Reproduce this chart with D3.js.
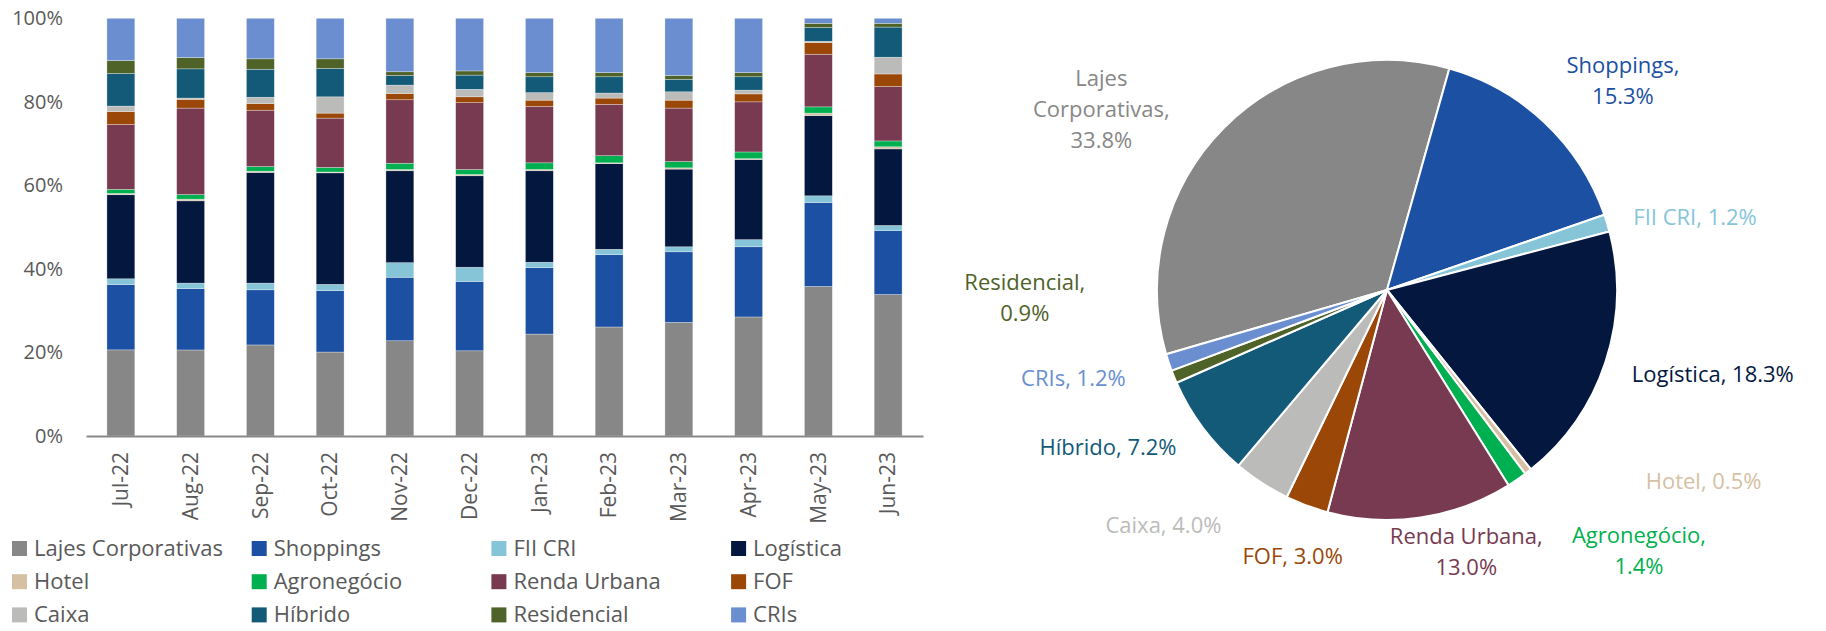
<!DOCTYPE html>
<html>
<head>
<meta charset="utf-8">
<script src="https://cdn.jsdelivr.net/npm/d3@7"></script>
<style>
  body { margin: 0; background: #fff; }
  text { font-family: "Open Sans", "Noto Sans", sans-serif; }
</style>
</head>
<body>
<div id="chart"></div>
<script>
const width = 1826, height = 631;

// data
const months = ["Jul-22", "Aug-22", "Sep-22", "Oct-22", "Nov-22", "Dec-22",
  "Jan-23", "Feb-23", "Mar-23", "Apr-23", "May-23", "Jun-23"];

const seriesNames = ["Lajes Corporativas", "Shoppings", "FII CRI", "Logística", "Hotel",
  "Agronegócio", "Renda Urbana", "FOF", "Caixa", "Híbrido", "Residencial", "CRIs"];

const lajes       = [20.6, 20.6, 21.8, 20.1, 22.8, 20.4, 24.4, 26.1, 27.2, 28.5, 35.8, 33.8];
const shoppings   = [15.6, 14.7, 13.2, 14.7, 15.2, 16.6, 15.9, 17.3, 16.9, 16.8, 20.1, 15.3];
const fiiCri      = [1.4, 1.3, 1.6, 1.5, 3.5, 3.4, 1.3, 1.3, 1.2, 1.7, 1.6, 1.2];
const logistica   = [20.1, 19.7, 26.5, 26.7, 22.0, 21.9, 21.9, 20.5, 18.6, 19.2, 19.2, 18.3];
const hotel       = [0.3, 0.4, 0.3, 0.2, 0.3, 0.3, 0.3, 0.2, 0.3, 0.2, 0.6, 0.5];
const agro        = [1.0, 1.1, 1.1, 1.1, 1.5, 1.2, 1.6, 1.7, 1.5, 1.6, 1.5, 1.4];
const renda       = [15.5, 20.7, 13.5, 11.8, 15.2, 16.0, 13.5, 12.3, 12.8, 12.0, 12.6, 13.0];
const fof         = [3.1, 2.1, 1.6, 1.2, 1.5, 1.4, 1.5, 1.5, 1.9, 1.9, 2.8, 3.0];
const caixa       = [1.3, 0.3, 1.5, 3.9, 2.0, 1.8, 1.8, 1.2, 2.0, 0.9, 0.3, 4.0];
const hibrido     = [7.8, 7.0, 6.7, 6.8, 2.3, 3.4, 3.8, 3.9, 3.0, 3.2, 3.3, 7.2];
const residencial = [3.1, 2.7, 2.5, 2.3, 0.9, 1.0, 1.0, 1.0, 0.9, 1.0, 1.0, 0.9];
const cris        = [10.1, 9.4, 9.7, 9.7, 12.8, 12.6, 13.0, 13.0, 13.7, 13.0, 1.2, 1.2];

// pie: current allocation (Jun-23)
const pieValues = [33.8, 15.3, 1.2, 18.3, 0.5, 1.4, 13.0, 3.0, 4.0, 7.2, 0.9, 1.2];

const colors = ["#878787", "#1c50a2", "#86c5d8", "#03173f", "#d5c0a4", "#00b050",
  "#783a50", "#9a4707", "#bbbcb9", "#125a78", "#4f6228", "#6a8ecf"];

const allSeries = [lajes, shoppings, fiiCri, logistica, hotel, agro, renda, fof, caixa, hibrido, residencial, cris];

const textColor = "#595959";

const svg = d3.select("#chart").append("svg")
  .attr("width", width)
  .attr("height", height);

// ---------- stacked bars ----------
const rows = months.map((m, i) => {
  const r = { month: m };
  seriesNames.forEach((s, k) => r[s] = allSeries[k][i]);
  return r;
});

const stacked = d3.stack()
  .keys(seriesNames)
  .offset(d3.stackOffsetExpand)(rows);

const x = d3.scaleBand()
  .domain(months)
  .range([86, 923])
  .paddingInner(0.6)
  .paddingOuter(0.3);

const y = d3.scaleLinear()
  .domain([0, 1])
  .range([436, 18.3]);

const color = d3.scaleOrdinal().domain(seriesNames).range(colors);

svg.append("g")
  .selectAll("g")
  .data(stacked)
  .join("g")
    .attr("fill", d => color(d.key))
  .selectAll("rect")
  .data(d => d)
  .join("rect")
    .attr("x", d => x(d.data.month))
    .attr("width", x.bandwidth())
    .attr("y", d => y(d[1]))
    .attr("height", d => y(d[0]) - y(d[1]))
    .attr("stroke", "#fff")
    .attr("stroke-opacity", 0.5)
    .attr("stroke-width", 0.6);

// y axis
const yAxis = svg.append("g")
  .attr("transform", "translate(86,0)")
  .call(d3.axisLeft(y).tickValues([0, 0.2, 0.4, 0.6, 0.8, 1]).tickFormat(d3.format(".0%")).tickSize(0).tickPadding(23));
yAxis.select(".domain").remove();
yAxis.selectAll("text")
  .attr("fill", textColor)
  .style("font-size", "20px")
  .style("font-family", "'Open Sans', sans-serif");

// x axis
const xAxis = svg.append("g")
  .attr("transform", "translate(0,436)")
  .call(d3.axisBottom(x).tickSize(0).tickPadding(0));
xAxis.select(".domain")
  .attr("stroke", "#898989")
  .attr("stroke-width", 2);
xAxis.selectAll("text")
  .attr("fill", textColor)
  .style("font-size", "21px")
  .style("font-family", "'Open Sans', sans-serif")
  .attr("text-anchor", "end")
  .attr("transform", "translate(0,16) rotate(-90)")
  .attr("x", 0)
  .attr("y", 0)
  .attr("dy", "0.35em");

// legend
const legend = svg.append("g").attr("transform", "translate(12,556)");
seriesNames.forEach((s, i) => {
  const col = i % 4, row = Math.floor(i / 4);
  const g = legend.append("g")
    .attr("transform", `translate(${col * 239.7},${row * 33.2})`);
  g.append("rect")
    .attr("x", 0)
    .attr("y", -15)
    .attr("width", 15)
    .attr("height", 15)
    .attr("fill", colors[i]);
  g.append("text")
    .attr("x", 22)
    .attr("y", 0)
    .attr("fill", textColor)
    .style("font-size", "22px")
    .text(s);
});

// ---------- pie ----------
const cx = 1387, cy = 290, radius = 230;
const start = -106.2 * Math.PI / 180;

const pie = d3.pie()
  .sort(null)
  .value(d => d.value)
  .startAngle(start)
  .endAngle(start + 2 * Math.PI);

const arc = d3.arc().innerRadius(0).outerRadius(radius);

const pieData = pie(seriesNames.map((s, i) => ({ name: s, value: pieValues[i], color: colors[i] })));

const pieG = svg.append("g").attr("transform", `translate(${cx},${cy})`);

pieG.selectAll("path")
  .data(pieData)
  .join("path")
    .attr("d", arc)
    .attr("fill", d => d.data.color)
    .attr("stroke", "#fff")
    .attr("stroke-width", 2)
    .attr("stroke-linejoin", "round");

// label layout: how each label wraps, and a nudge from the point at 1.4r on the slice's mid-angle
const labelWrap = ["words", "pct", "none", "none", "none", "pct", "pct", "none", "none", "none", "pct", "none"];
const labelNudge = [[-57, 46], [15, 25], [0, 21], [20, -17], [119, -63], [70, -5],
  [32, -57], [18, -35], [-48, -35], [-21, -35], [-64, -114], [-8, -13]];

const lineH = 31;
pieData.forEach((d, i) => {
  const mid = (d.startAngle + d.endAngle) / 2;
  const lx = Math.sin(mid) * radius * 1.4 + labelNudge[i][0];
  const ly = -Math.cos(mid) * radius * 1.4 + labelNudge[i][1];
  const pct = d.data.value.toFixed(1) + "%";
  let lines;
  if (labelWrap[i] === "words") {
    lines = d.data.name.split(" ");
    lines[lines.length - 1] += ",";
    lines.push(pct);
  } else if (labelWrap[i] === "pct") {
    lines = [d.data.name + ",", pct];
  } else {
    lines = [d.data.name + ", " + pct];
  }
  const t = pieG.append("text")
    .attr("text-anchor", "middle")
    .attr("fill", d.data.color)
    .style("font-size", "22px");
  lines.forEach((ln, k) => {
    t.append("tspan")
      .attr("x", lx)
      .attr("y", ly + (k - (lines.length - 1) / 2) * lineH + 7.7)
      .text(ln);
  });
});
</script>
</body>
</html>
